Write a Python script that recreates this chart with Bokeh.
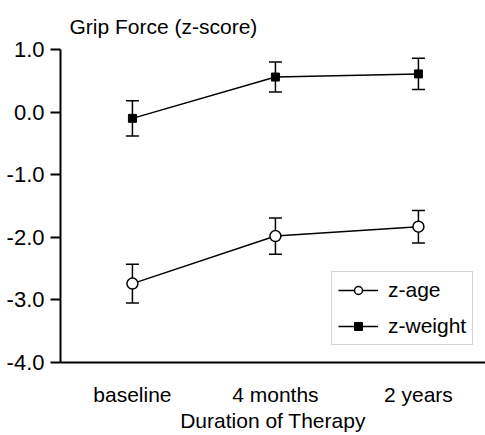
from bokeh.plotting import figure
from bokeh.models import (Range1d, FixedTicker, PrintfTickFormatter, Whisker, TeeHead,
                          ColumnDataSource, Legend, LegendItem)
from bokeh.embed import file_html
from bokeh.resources import INLINE

categories = ["baseline", "4 months", "2 years"]
z_age = [-2.74, -1.98, -1.83]
z_age_err = [0.31, 0.29, 0.26]
z_weight = [-0.10, 0.56, 0.61]
z_weight_err = [0.28, 0.24, 0.25]
y_ticks = [-4, -3, -2, -1, 0, 1]

FONT = "Liberation Sans"
x = [i + 1 for i in range(len(categories))]

p = figure(width=485, height=435, output_backend="svg", toolbar_location=None,
           x_range=Range1d(0.497, 3.469), y_range=Range1d(-4.0, 1.0),
           min_border_left=60, min_border_right=0, min_border_top=49, min_border_bottom=73)
p.outline_line_color = None
p.grid.visible = False
p.background_fill_color = "white"

p.title.text = "Grip Force (z-score)"
p.title.text_font = FONT
p.title.text_font_size = "21px"
p.title.text_font_style = "normal"
p.title.text_color = "black"
p.title.align = "left"
p.title.offset = 9
p.title.standoff = 24

# y axis
ya = p.yaxis[0]
ya.ticker = FixedTicker(ticks=y_ticks)
ya.formatter = PrintfTickFormatter(format="%.1f")
ya.minor_tick_line_color = None
ya.major_tick_in = 0
ya.major_tick_out = 10
ya.major_tick_line_width = 2
ya.axis_line_width = 2
ya.major_label_standoff = 6
ya.major_label_text_font = FONT
ya.major_label_text_font_size = "22px"
ya.major_label_text_color = "black"

# x axis
xa = p.xaxis[0]
xa.ticker = FixedTicker(ticks=x)
xa.major_label_overrides = {xi: c for xi, c in zip(x, categories)}
xa.minor_tick_line_color = None
xa.major_tick_in = 0
xa.major_tick_out = 0
xa.axis_line_width = 2
xa.major_label_standoff = 20
xa.major_label_text_font = FONT
xa.major_label_text_font_size = "21px"
xa.major_label_text_color = "black"
xa.axis_label = "Duration of Therapy"
xa.axis_label_standoff = 0
xa.axis_label_text_font = FONT
xa.axis_label_text_font_size = "21px"
xa.axis_label_text_font_style = "normal"
xa.axis_label_text_color = "black"

src_age = ColumnDataSource(dict(x=x, y=z_age,
                                upper=[m + e for m, e in zip(z_age, z_age_err)],
                                lower=[m - e for m, e in zip(z_age, z_age_err)]))
src_w = ColumnDataSource(dict(x=x, y=z_weight,
                              upper=[m + e for m, e in zip(z_weight, z_weight_err)],
                              lower=[m - e for m, e in zip(z_weight, z_weight_err)]))

l_age = p.line("x", "y", source=src_age, line_color="black", line_width=1.5)
l_w = p.line("x", "y", source=src_w, line_color="black", line_width=1.5)

for src in (src_age, src_w):
    p.add_layout(Whisker(base="x", upper="upper", lower="lower", source=src,
                         line_color="black", line_width=1.5,
                         upper_head=TeeHead(size=13, line_color="black", line_width=1.5),
                         lower_head=TeeHead(size=13, line_color="black", line_width=1.5)))

m_age = p.scatter("x", "y", source=src_age, marker="circle", size=11,
                  fill_color="white", line_color="black", line_width=1.5)
m_w = p.scatter("x", "y", source=src_w, marker="square", size=8,
                fill_color="black", line_color="black", line_width=1)

legend = Legend(items=[LegendItem(label="z-age", renderers=[l_age, m_age]),
                       LegendItem(label="z-weight", renderers=[l_w, m_w])],
                location=(271, 17))
legend.label_text_font = FONT
legend.label_text_font_size = "21px"
legend.label_text_color = "black"
legend.glyph_width = 40
legend.glyph_height = 20
legend.label_height = 20
legend.label_standoff = 10
legend.spacing = 12
legend.padding = 6
legend.margin = 0
legend.border_line_color = "#aaaaaa"
legend.border_line_width = 1
legend.background_fill_color = "white"
legend.background_fill_alpha = 1
p.add_layout(legend)

open("out.html", "w").write(file_html(p, INLINE))
